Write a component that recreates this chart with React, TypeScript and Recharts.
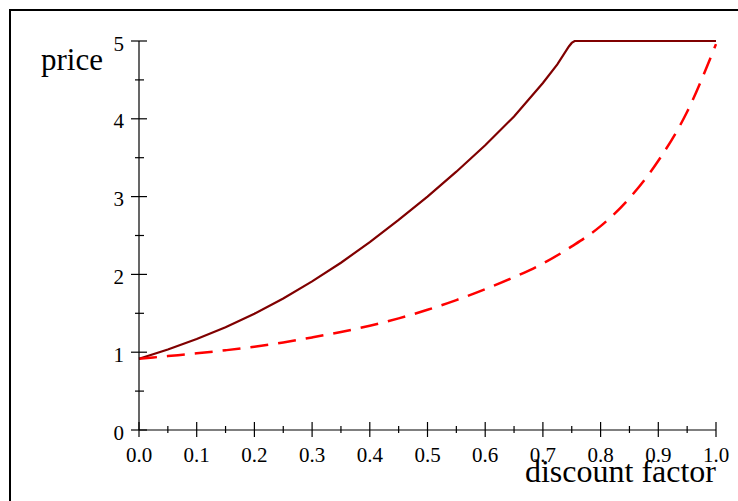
import React from 'react';
import { LineChart, Line, XAxis, YAxis } from 'recharts';

// discount factor grid
const discount = [0, 0.05, 0.1, 0.15, 0.2, 0.25, 0.3, 0.35, 0.4, 0.45, 0.5, 0.55, 0.6, 0.65, 0.7, 0.725, 0.745, 0.75, 0.755, 0.8, 0.85, 0.9, 0.95, 1.0];
// solid curve (capped at 5)
const priceSolid = [0.915, 1.034, 1.17, 1.32, 1.495, 1.69, 1.91, 2.15, 2.415, 2.7, 3.0, 3.32, 3.66, 4.03, 4.46, 4.7, 4.93, 4.975, 5.0, 5.0, 5.0, 5.0, 5.0, 5.0];
// dashed curve
const priceDashed = [0.915, 0.95, 0.985, 1.025, 1.07, 1.125, 1.19, 1.26, 1.34, 1.435, 1.545, 1.67, 1.81, 1.965, 2.14, null, null, 2.36, null, 2.62, 2.98, 3.46, 4.09, 4.96];

const xTicks = [0, 0.05, 0.1, 0.15, 0.2, 0.25, 0.3, 0.35, 0.4, 0.45, 0.5, 0.55, 0.6, 0.65, 0.7, 0.75, 0.8, 0.85, 0.9, 0.95, 1.0];
const yTicks = [0, 0.5, 1, 1.5, 2, 2.5, 3, 3.5, 4, 4.5, 5];

const data = discount.map((d, i) => ({ d, solid: priceSolid[i], dashed: priceDashed[i] }));

const FONT = '"Liberation Serif", "Times New Roman", serif';

const isMajor = (v: number, step: number) => Math.abs(v / step - Math.round(v / step)) < 1e-6;

const XTick = ({ x, y, payload }: any) => {
  const major = isMajor(payload.value, 0.1);
  return (
    <g>
      <line x1={x} x2={x} y1={y - (major ? 8 : 4)} y2={y + (major ? 7 : 3)} stroke="#000" strokeWidth={1.2} />
      {major && (
        <text x={x} y={y + 31.5} textAnchor="middle" fontSize={21} fontFamily={FONT} fill="#000">
          {payload.value.toFixed(1)}
        </text>
      )}
    </g>
  );
};

const YTick = ({ x, y, payload }: any) => {
  const major = isMajor(payload.value, 1);
  return (
    <g>
      <line x1={x - (major ? 8 : 4)} x2={x + (major ? 8 : 5)} y1={y} y2={y} stroke="#000" strokeWidth={1.2} />
      {major && (
        <text x={x - 15} y={y + 9.5} textAnchor="end" fontSize={21} fontFamily={FONT} fill="#000">
          {payload.value}
        </text>
      )}
    </g>
  );
};

const XLabel = ({ viewBox }: any) => (
  <text x={viewBox.x + viewBox.width} y={viewBox.y + 52} textAnchor="end" fontSize={32} fontFamily={FONT} fill="#000">
    discount factor
  </text>
);

const YLabel = ({ viewBox }: any) => (
  <text x={41} y={viewBox.y + 29} textAnchor="start" fontSize={31} fontFamily={FONT} fill="#000">
    price
  </text>
);

export default function App() {
  return (
    <div style={{ position: 'fixed', left: 0, top: 0, width: 738, height: 501, overflow: 'hidden', background: '#fff' }}>
      <div style={{ position: 'absolute', left: 9, top: 9, width: 800, height: 600, border: '2px solid #000' }} />
      <div style={{ position: 'absolute', left: 0, top: 0 }}>
        <LineChart width={738} height={501} data={data} margin={{ top: 41, right: 22, left: 0, bottom: 0 }}>
          <XAxis
            dataKey="d"
            type="number"
            domain={[0, 1]}
            ticks={xTicks}
            interval={0}
            height={71}
            tickSize={0}
            tickMargin={0}
            tickLine={false}
            axisLine={{ stroke: '#000', strokeWidth: 1.2 }}
            tick={<XTick />}
            label={<XLabel />}
          />
          <YAxis
            type="number"
            domain={[0, 5]}
            ticks={yTicks}
            interval={0}
            width={139}
            tickSize={0}
            tickMargin={0}
            tickLine={false}
            axisLine={{ stroke: '#000', strokeWidth: 1.2 }}
            tick={<YTick />}
            label={<YLabel />}
          />
          <Line
            type="linear"
            dataKey="solid"
            stroke="#800000"
            strokeWidth={2.2}
            dot={false}
            isAnimationActive={false}
          />
          <Line
            type="monotone"
            dataKey="dashed"
            stroke="#ff0000"
            strokeWidth={2.5}
            strokeDasharray="18 10"
            dot={false}
            connectNulls
            isAnimationActive={false}
          />
        </LineChart>
      </div>
    </div>
  );
}
